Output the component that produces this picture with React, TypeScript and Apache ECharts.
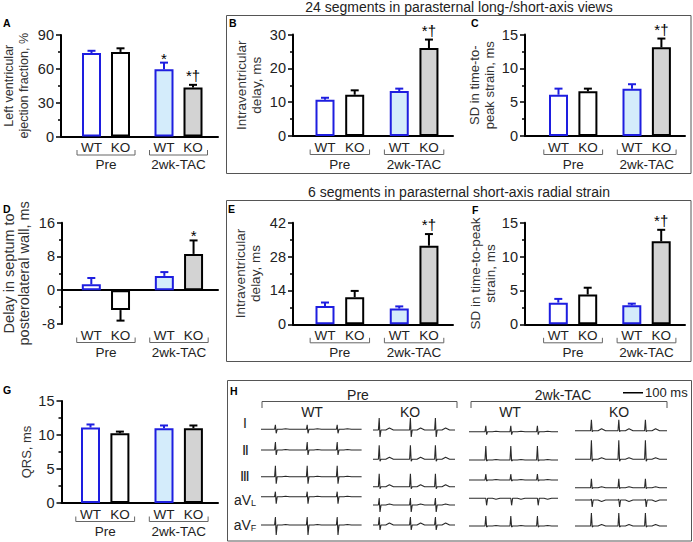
import React, { useEffect, useRef } from 'react';
import * as echarts from 'echarts';

// ---------- data ----------
const groups = ['Pre', '2wk-TAC'];
const genotypes = ['WT', 'KO'];

const efTicks = [0, 30, 60, 90];
const efMean = [74, 75, 59.6, 43.4];
const efErr = [2, 3.2, 5.9, 2.4];
const efMarks = ['', '', '*', '*†'];

const delay24Ticks = [0, 10, 20, 30];
const delay24Mean = [10.7, 12.2, 13.3, 26];
const delay24Err = [0.6, 1.3, 0.7, 2.5];
const delay24Marks = ['', '', '', '*†'];

const sd24Ticks = [0, 5, 10, 15];
const sd24Mean = [6.1, 6.6, 7.0, 13.1];
const sd24Err = [0.9, 0.4, 0.65, 1.3];
const sd24Marks = ['', '', '', '*†'];

const septTicks = [-8, 0, 8, 16];
const septMean = [1.4, -4.7, 3.4, 8.6];
const septErr = [1.5, 2.5, 0.9, 3.2];
const septMarks = ['', '', '', '*'];

const delay6Ticks = [0, 14, 28, 42];
const delay6Mean = [7.6, 11.2, 6.5, 32.5];
const delay6Err = [1.4, 2.6, 0.9, 4.8];
const delay6Marks = ['', '', '', '*†'];

const sd6Ticks = [0, 5, 10, 15];
const sd6Mean = [3.2, 4.4, 2.8, 12.25];
const sd6Err = [0.55, 1.0, 0.25, 1.7];
const sd6Marks = ['', '', '', '*†'];

const qrsTicks = [0, 5, 10, 15];
const qrsMean = [11.1, 10.25, 11.0, 11.0];
const qrsErr = [0.45, 0.25, 0.4, 0.4];
const qrsMarks = ['', '', '', ''];

// ECG (panel H): columns Pre WT, Pre KO, 2wk-TAC WT, 2wk-TAC KO
const ecgLeadNames = ['I', 'Ⅱ', 'Ⅲ', 'aVL', 'aVF'];
const beatTimesMs = [[73, 232, 382], [32, 188, 313], [85, 210, 343], [83, 220, 353]];
const traceLengthMs = [503, 410, 445, 460];
const rAmp = [[4.5, 12, 6, 11], [8, 14, 14, 19], [11, 13, 6, 9], [5, 7, 0, 1], [8, 8, 10, 13]];
const sAmp = [[4, 7, 3, 1], [5, 2, 1, 2], [7, 2, 1, 1], [7, 7, 7, 7], [10, 5, 1, 1]];
const tAmp = [[0.5, 2, 0.5, 2], [0.5, 2, 0.5, 1.5], [0.5, 2, 0.5, 1], [0.5, 1, -1, -1.5], [0.5, 2, 0.5, 1.5]];
const scaleBarMs = 100;

// ---------- layout / style ----------
const FONT = '"Liberation Sans", Arial, Helvetica, sans-serif';
const WT_BLUE = '#1e1ee0';
const FILLS = ['#ffffff', '#ffffff', '#d4ecfb', '#d3d3d3'];
const BORDERS = [WT_BLUE, '#000000', WT_BLUE, '#000000'];

const ecgColumnStartMs = [0, 560, 1040, 1570];
const ecgBaseline = [
  [105.7, 105, 103.3, 104.3],
  [85, 75.7, 75, 75.7],
  [58.3, 48.3, 55, 47.3],
  [38.3, 30, 36.7, 35],
  [10, 10, 9, 9],
];
const scaleBarStart = [1810, 142.3];

const panels = [
  { mean: efMean, err: efErr, marks: efMarks, ticks: efTicks, name: 'Left ventricular\nejection fraction, %',
    g: { left: 61, right: 218, top: 35, bottom: 136.5 }, fc: 91.5, unit: 29, gap: 30, ns: 12.5 },
  { mean: delay24Mean, err: delay24Err, marks: delay24Marks, ticks: delay24Ticks, name: 'Intraventricular\ndelay, ms',
    g: { left: 293, right: 453, top: 34.5, bottom: 136 }, fc: 325, unit: 29.7, gap: 29, ns: 13.5 },
  { mean: sd24Mean, err: sd24Err, marks: sd24Marks, ticks: sd24Ticks, name: 'SD in time-to-\npeak strain, ms',
    g: { left: 525, right: 685, top: 34.5, bottom: 136 }, fc: 558.5, unit: 29.4, gap: 28, ns: 13 },
  { mean: septMean, err: septErr, marks: septMarks, ticks: septTicks, name: 'Delay in septum to\nposterolateral wall, ms',
    g: { left: 61, right: 218, top: 222.7, bottom: 324 }, fc: 90.5, unit: 29.4, gap: 31, ns: 14.5 },
  { mean: delay6Mean, err: delay6Err, marks: delay6Marks, ticks: delay6Ticks, name: 'Intraventricular\ndelay, ms',
    g: { left: 293, right: 453, top: 222.7, bottom: 324.3 }, fc: 325, unit: 29.7, gap: 30, ns: 13.5 },
  { mean: sd6Mean, err: sd6Err, marks: sd6Marks, ticks: sd6Ticks, name: 'SD in time-to-peak\nstrain, ms',
    g: { left: 525, right: 685, top: 222.7, bottom: 324.3 }, fc: 558.3, unit: 29.4, gap: 27, ns: 13.5 },
  { mean: qrsMean, err: qrsErr, marks: qrsMarks, ticks: qrsTicks, name: 'QRS, ms',
    g: { left: 61.5, right: 218, top: 401, bottom: 503 }, fc: 90.5, unit: 29.4, gap: 27.5, ns: 13 },
];

const xPos = (i: number) => Math.floor(i / 2) * 2.5 + (i % 2);

function textStyle(text: string, size: number, extra: any = {}) {
  return {
    text, fill: '#222', fontSize: size, fontFamily: FONT,
    textAlign: 'center', textVerticalAlign: 'middle', align: 'center', verticalAlign: 'middle',
    ...extra,
  };
}
const gtext = (x: number, y: number, text: string, size: number, extra: any = {}) => ({
  type: 'text', x, y, silent: true, style: textStyle(text, size, extra),
});

function buildOption() {
  const grid: any[] = [];
  const xAxis: any[] = [];
  const yAxis: any[] = [];
  const series: any[] = [];

  panels.forEach((p, pi) => {
    const w = p.g.right - p.g.left;
    const h = p.g.bottom - p.g.top;
    grid.push({ left: p.g.left, top: p.g.top, width: w, height: h });
    const xMin = -(p.fc - p.g.left) / p.unit;
    const xMax = xMin + w / p.unit;
    const yMin = p.ticks[0];
    const yMax = p.ticks[p.ticks.length - 1];
    xAxis.push({
      type: 'value', gridIndex: pi, min: xMin, max: xMax,
      axisLine: { show: true, onZero: true, lineStyle: { color: '#000', width: 2 } },
      axisTick: { show: false }, axisLabel: { show: false }, splitLine: { show: false },
    });
    yAxis.push({
      type: 'value', gridIndex: pi, min: yMin, max: yMax, interval: p.ticks[1] - p.ticks[0],
      name: p.name, nameLocation: 'middle', nameGap: p.gap,
      nameTextStyle: { fontSize: p.ns, color: '#333', fontFamily: FONT, lineHeight: 15 },
      axisLine: { show: true, onZero: false, lineStyle: { color: '#000', width: 2 } },
      axisTick: { show: true, length: 5, lineStyle: { color: '#000', width: 1.5 } },
      minorTick: { show: true, splitNumber: 2, length: 3, lineStyle: { color: '#000', width: 1.5 } },
      splitLine: { show: false }, minorSplitLine: { show: false },
      axisLabel: { fontSize: 14.5, color: '#222', margin: 7, fontFamily: FONT },
    });
    series.push({
      type: 'bar', xAxisIndex: pi, yAxisIndex: pi, barWidth: 19, silent: true, z: 2,
      data: p.mean.map((m, i) => ({
        value: [xPos(i), m],
        itemStyle: { color: FILLS[i], borderColor: BORDERS[i], borderWidth: 2 },
      })),
    });
    const marks = p.marks;
    series.push({
      type: 'custom', xAxisIndex: pi, yAxisIndex: pi, silent: true, clip: false, z: 3,
      data: p.mean.map((m, i) => [xPos(i), m, p.err[i], i]),
      renderItem: (params: any, api: any) => {
        const x = api.value(0), m = api.value(1), e = api.value(2), i = api.value(3);
        const sign = m < 0 ? -1 : 1;
        const p0 = api.coord([x, m]);
        const p1 = api.coord([x, m + sign * e]);
        const color = BORDERS[i];
        const children: any[] = [
          { type: 'line', shape: { x1: p0[0], y1: p0[1], x2: p1[0], y2: p1[1] }, style: { stroke: color, lineWidth: 2 } },
          { type: 'line', shape: { x1: p1[0] - 4, y1: p1[1], x2: p1[0] + 4, y2: p1[1] }, style: { stroke: color, lineWidth: 2 } },
        ];
        const mk = marks[i];
        if (mk) {
          children.push({
            type: 'text', x: p1[0], y: p1[1] + (mk === '*' ? 3 : -2),
            style: textStyle(mk, 15, { fill: '#000', textVerticalAlign: 'bottom', verticalAlign: 'bottom' }),
          });
        }
        return { type: 'group', children };
      },
    });
    series.push({
      type: 'custom', xAxisIndex: pi, yAxisIndex: pi, silent: true, clip: false, z: 3,
      data: groups.map((g, gi) => [xPos(gi * 2), xPos(gi * 2 + 1), gi]),
      renderItem: (params: any, api: any) => {
        const gi = api.value(2);
        const a = api.coord([api.value(0), yMin]);
        const b = api.coord([api.value(1), yMin]);
        const half = api.size([0.5, 0])[0];
        const y0 = a[1];
        const xl = a[0] - half, xr = b[0] + half;
        return {
          type: 'group',
          children: [
            { type: 'text', x: a[0], y: y0 + 11, style: textStyle(genotypes[0], 13.5) },
            { type: 'text', x: b[0], y: y0 + 11, style: textStyle(genotypes[1], 13.5) },
            { type: 'polyline', shape: { points: [[xl, y0 + 13.5], [xl, y0 + 18.5], [xr, y0 + 18.5], [xr, y0 + 13.5]] },
              style: { stroke: '#666', lineWidth: 1, fill: null } },
            { type: 'text', x: (a[0] + b[0]) / 2, y: y0 + 28, style: textStyle(groups[gi], 13.5) },
          ],
        };
      },
    });
  });

  // Panel H grid (ECG)
  const hi = panels.length;
  grid.push({ left: 261, top: 385, width: 406, height: 150 });
  xAxis.push({ type: 'value', gridIndex: hi, min: 0, max: 2030, show: false });
  yAxis.push({ type: 'value', gridIndex: hi, min: 0, max: 150, show: false });
  ecgLeadNames.forEach((ln, li) => {
    beatTimesMs.forEach((beats, ci) => {
      const start = ecgColumnStartMs[ci];
      const b = ecgBaseline[li][ci];
      const R = rAmp[li][ci], S = sAmp[li][ci], T = tAmp[li][ci];
      const pts: number[][] = [[start, b]];
      beats.forEach((bt) => {
        const t = start + bt;
        pts.push([t - 5, b], [t - 1, b + R], [t + 3, b - S], [t + 8, b], [t + 32, b], [t + 50, b + T], [t + 70, b]);
      });
      pts.push([start + traceLengthMs[ci], b]);
      series.push({
        type: 'line', xAxisIndex: hi, yAxisIndex: hi, showSymbol: false, silent: true,
        lineStyle: { color: '#2a2a2a', width: 1.1 }, data: pts,
      });
    });
  });
  series.push({
    type: 'line', xAxisIndex: hi, yAxisIndex: hi, showSymbol: false, silent: true,
    lineStyle: { color: '#000', width: 1.5 },
    data: [scaleBarStart, [scaleBarStart[0] + scaleBarMs, scaleBarStart[1]]],
    endLabel: { show: true, formatter: `${scaleBarMs} ms`, fontSize: 13, color: '#222', fontFamily: FONT, distance: 2 },
  });

  const graphic: any[] = [
    { type: 'rect', silent: true, shape: { x: 226.5, y: 15.5, width: 464.5, height: 158 }, style: { fill: 'none', stroke: '#555', lineWidth: 1 } },
    { type: 'rect', silent: true, shape: { x: 226.5, y: 200.5, width: 464.5, height: 161 }, style: { fill: 'none', stroke: '#555', lineWidth: 1 } },
    { type: 'rect', silent: true, shape: { x: 227.5, y: 380.5, width: 464, height: 160.5 }, style: { fill: 'none', stroke: '#555', lineWidth: 1 } },
    gtext(459, 7, '24 segments in parasternal long-/short-axis views', 14),
    gtext(459, 192, '6 segments in parasternal short-axis radial strain', 14),
    gtext(3, 23, 'A', 10.5, { fontWeight: 'bold', fill: '#000', textAlign: 'left', align: 'left' }),
    gtext(229, 23, 'B', 10.5, { fontWeight: 'bold', fill: '#000', textAlign: 'left', align: 'left' }),
    gtext(471, 23, 'C', 10.5, { fontWeight: 'bold', fill: '#000', textAlign: 'left', align: 'left' }),
    gtext(3, 209, 'D', 10.5, { fontWeight: 'bold', fill: '#000', textAlign: 'left', align: 'left' }),
    gtext(228, 209, 'E', 10.5, { fontWeight: 'bold', fill: '#000', textAlign: 'left', align: 'left' }),
    gtext(472, 210, 'F', 10.5, { fontWeight: 'bold', fill: '#000', textAlign: 'left', align: 'left' }),
    gtext(3, 390, 'G', 10.5, { fontWeight: 'bold', fill: '#000', textAlign: 'left', align: 'left' }),
    gtext(230, 391, 'H', 10.5, { fontWeight: 'bold', fill: '#000', textAlign: 'left', align: 'left' }),
    gtext(358, 395, groups[0], 14),
    gtext(563, 395, groups[1], 14),
    { type: 'polyline', silent: true, shape: { points: [[262, 408], [262, 401.5], [457, 401.5], [457, 408]] }, style: { stroke: '#555', lineWidth: 1, fill: null } },
    { type: 'polyline', silent: true, shape: { points: [[471, 408], [471, 401.5], [667, 401.5], [667, 408]] }, style: { stroke: '#555', lineWidth: 1, fill: null } },
    gtext(312, 412, genotypes[0], 14),
    gtext(410, 412, genotypes[1], 14),
    gtext(510, 412, genotypes[0], 14),
    gtext(619, 412, genotypes[1], 14),
    gtext(245, 423, ecgLeadNames[0], 14),
    gtext(245, 450, ecgLeadNames[1], 14),
    gtext(245, 476, ecgLeadNames[2], 14),
    gtext(245, 500, '', 14, { text: '{a|aV}{s|L}', rich: { a: { fontSize: 14, fontFamily: FONT, fill: '#222' }, s: { fontSize: 9, fontFamily: FONT, fill: '#222', padding: [5, 0, 0, 0] } } }),
    gtext(245, 525, '', 14, { text: '{a|aV}{s|F}', rich: { a: { fontSize: 14, fontFamily: FONT, fill: '#222' }, s: { fontSize: 9, fontFamily: FONT, fill: '#222', padding: [5, 0, 0, 0] } } }),
  ];

  return { animation: false, backgroundColor: '#fff', grid, xAxis, yAxis, series, graphic };
}

export default function App() {
  const ref = useRef<HTMLDivElement>(null);
  useEffect(() => {
    if (!ref.current) return;
    const chart = echarts.init(ref.current, undefined, { renderer: 'svg' });
    chart.setOption(buildOption() as any);
    return () => chart.dispose();
  }, []);
  return <div ref={ref} style={{ position: 'absolute', left: 0, top: 0, width: 693, height: 542, background: '#fff' }} />;
}
